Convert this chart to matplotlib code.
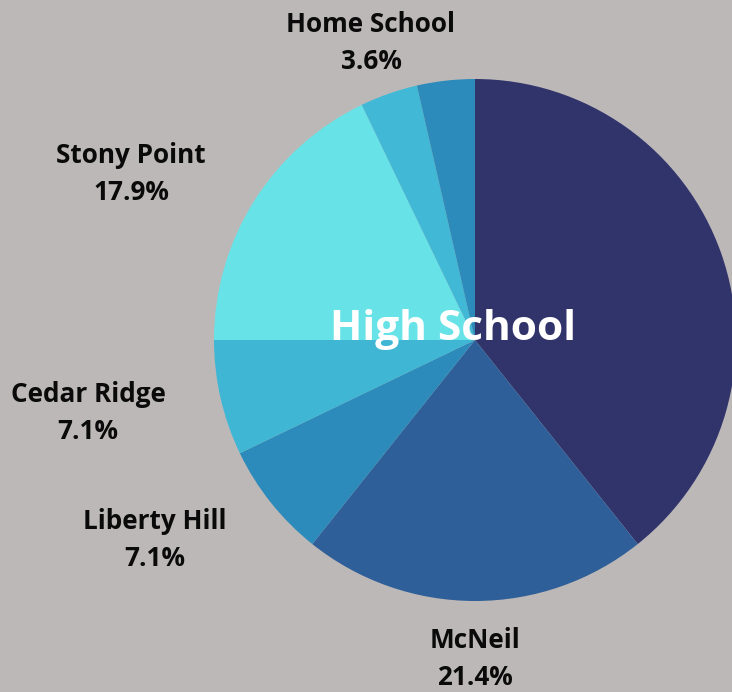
import matplotlib
matplotlib.use("Agg")
import matplotlib.pyplot as plt

categories = ["", "McNeil", "Liberty Hill", "Cedar Ridge", "Stony Point", "", "Home School"]
counts = [11, 6, 2, 2, 5, 1, 1]
pct_labels = ["39.3%", "21.4%", "7.1%", "7.1%", "17.9%", "3.6%", "3.6%"]
colors = ["#31346B", "#2E5F98", "#2C8BBA", "#3FB7D4", "#67E3E8", "#41B8D5", "#2C8BBA"]
title = "High School"

bg = "#BDB8B8"
W, H = 732, 692
fig = plt.figure(figsize=(W / 100, H / 100), dpi=100, facecolor=bg)
ax = fig.add_axes([0, 0, 1, 1])
ax.set_facecolor(bg)

cx, cy, r = 475, H - 340, 261
ax.pie(counts, colors=colors, startangle=90, counterclock=False,
       center=(cx, cy), radius=r, frame=True,
       wedgeprops=dict(linewidth=0))
ax.set_xlim(0, W)
ax.set_ylim(0, H)
ax.set_aspect("equal")
ax.axis("off")

fam = ["Open Sans", "DejaVu Sans"]
label_pos = {
    "McNeil": (475, 659),
    "Liberty Hill": (155, 540),
    "Cedar Ridge": (88, 413),
    "Stony Point": (131, 174),
    "Home School": (371, 43),
}
for name, pct in zip(categories, pct_labels):
    if name in label_pos:
        x, y = label_pos[name]
        ax.text(x, H - y, f"{name}\n{pct}", ha="center", va="center",
                fontsize=18.8, fontweight="bold", family=fam, color="#0A0A0A",
                linespacing=1.45)

ax.text(453, H - 329, title, ha="center", va="center", fontsize=30.5,
        fontweight="bold", family=fam, color="white")

fig.savefig("out.png", dpi=100, facecolor=bg)
